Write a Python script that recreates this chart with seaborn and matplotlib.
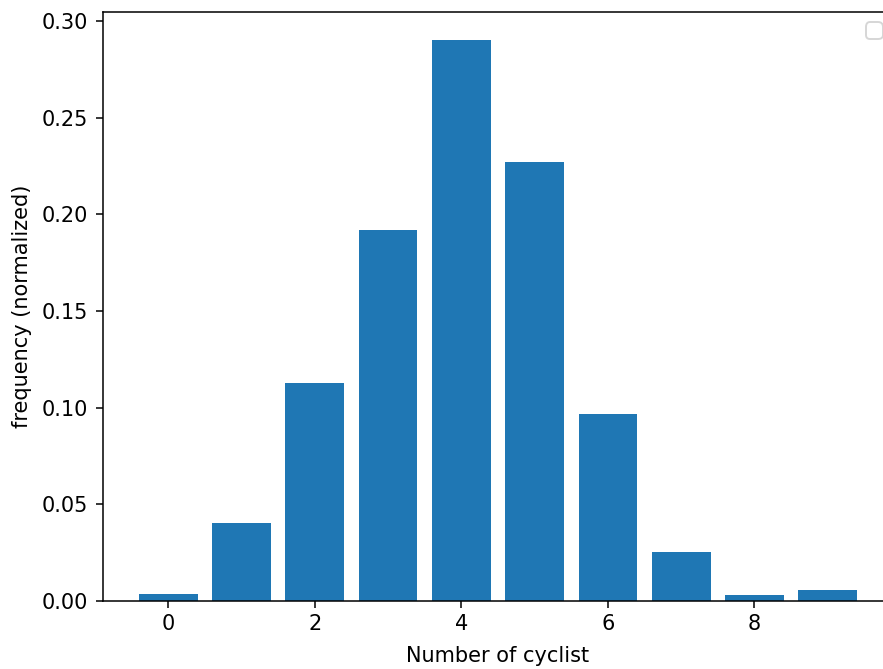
import matplotlib
matplotlib.use("Agg")
import matplotlib.pyplot as plt
import seaborn as sns
import pandas as pd

cyclists = [0, 1, 2, 3, 4, 5, 6, 7, 8, 9]
frequency = [0.0036, 0.0404, 0.1128, 0.1919, 0.2902, 0.2271, 0.0967, 0.0253, 0.0031, 0.0057]

sns.set_style("ticks")
plt.rcParams['font.family'] = ['DejaVu Sans']
plt.rcParams['font.size'] = 10.9
plt.rcParams['axes.linewidth'] = 0.8
plt.rcParams['xtick.major.width'] = 0.8
plt.rcParams['ytick.major.width'] = 0.8
plt.rcParams['xtick.major.size'] = 3.5
plt.rcParams['ytick.major.size'] = 3.5
plt.rcParams['xtick.labelsize'] = 10.9
plt.rcParams['ytick.labelsize'] = 10.9
plt.rcParams['axes.labelsize'] = 10.9
plt.rcParams['axes.edgecolor'] = 'black'
plt.rcParams['xtick.color'] = 'black'
plt.rcParams['ytick.color'] = 'black'
plt.rcParams['text.color'] = 'black'
plt.rcParams['axes.labelcolor'] = 'black'

df = pd.DataFrame({"cyclists": cyclists, "frequency": frequency})

dpi = 138
fig = plt.figure(figsize=(883 / dpi, 669 / dpi), dpi=dpi)
ax = fig.add_axes([103 / 883, (669 - 601) / 669, 790 / 883, 589 / 669])

sns.barplot(data=df, x="cyclists", y="frequency", native_scale=True,
            color="#1f77b4", saturation=1, width=0.8, linewidth=0, ax=ax)

ax.set_xlim(-0.89, 9.89)
ax.set_ylim(0, 0.3047)
ax.set_xticks([0, 2, 4, 6, 8])
ax.set_xticklabels(["0", "2", "4", "6", "8"])
ax.set_yticks([0, 0.05, 0.10, 0.15, 0.20, 0.25, 0.30])
ax.set_yticklabels(["0.00", "0.05", "0.10", "0.15", "0.20", "0.25", "0.30"])
ax.tick_params(axis="y", pad=4.5)
ax.set_xlabel("Number of cyclist", labelpad=6)
ax.set_ylabel("frequency (normalized)", labelpad=5)
for s in ax.spines.values():
    s.set_visible(True)
    s.set_color('black')
ax.legend(loc="upper right")

fig.savefig("out.png", dpi=dpi)
